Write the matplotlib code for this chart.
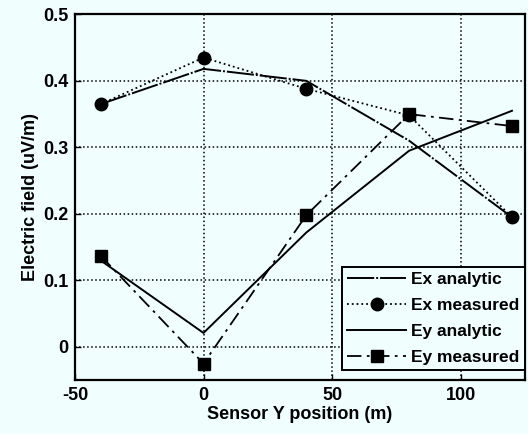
import matplotlib
matplotlib.use("Agg")
import matplotlib.pyplot as plt

# sensor positions (m)
sensor_y = [-40, 0, 40, 80, 120]

# electric field values (uV/m)
ex_analytic = [0.365, 0.418, 0.400, 0.310, 0.195]
ex_measured = [0.365, 0.435, 0.388, 0.348, 0.195]
ey_analytic = [0.130, 0.021, 0.172, 0.295, 0.355]
ey_measured = [0.137, -0.025, 0.198, 0.350, 0.332]

x_ticks = [-50, 0, 50, 100]
y_ticks = [0, 0.1, 0.2, 0.3, 0.4, 0.5]
y_ticklabels = ["0", "0.1", "0.2", "0.3", "0.4", "0.5"]

bg = "#f0fefe"
plt.rcParams["font.family"] = ["Liberation Sans", "DejaVu Sans"]
plt.rcParams["font.weight"] = "bold"
plt.rcParams["axes.labelweight"] = "bold"
plt.rcParams["axes.unicode_minus"] = False

fig = plt.figure(figsize=(5.28, 4.34), dpi=100, facecolor=bg)
ax = fig.add_axes([0.142, 0.124, 0.852, 0.843], facecolor=bg)

ax.plot(sensor_y, ex_analytic, color="black", lw=1.4, linestyle=(0, (14, 1, 1, 1)),
        label="Ex analytic")
ax.plot(sensor_y, ex_measured, color="black", lw=1.3, linestyle=":", marker="o",
        markersize=9, label="Ex measured")
ax.plot(sensor_y, ey_analytic, color="black", lw=1.4, linestyle="-", label="Ey analytic")
ax.plot(sensor_y, ey_measured, color="black", lw=1.3, linestyle=(0, (8, 3, 1.5, 3)),
        marker="s", markersize=8, label="Ey measured")

ax.set_xlim(-50, 125)
ax.set_ylim(-0.05, 0.5)
ax.set_xticks(x_ticks)
ax.set_yticks(y_ticks)
ax.set_yticklabels(y_ticklabels)
ax.grid(True, color="black", linestyle=":", linewidth=1.1)
ax.tick_params(direction="in", labelsize=13, length=4, width=1, pad=5)
for sp in ax.spines.values():
    sp.set_linewidth(1.6)

ax.set_xlabel("Sensor Y position (m)", fontsize=13, labelpad=1)
ax.set_ylabel("Electric field (uV/m)", fontsize=13, labelpad=3)

leg = ax.legend(loc="lower right", bbox_to_anchor=(1.0, 0.027), fontsize=12.5,
                frameon=True, fancybox=False, framealpha=1, edgecolor="black",
                borderpad=0.3, labelspacing=0.62, handlelength=3.4, handletextpad=0.3,
                borderaxespad=0.0)
leg.get_frame().set_facecolor(bg)
leg.get_frame().set_linewidth(1.4)

fig.savefig("out.png", dpi=100, facecolor=bg)
